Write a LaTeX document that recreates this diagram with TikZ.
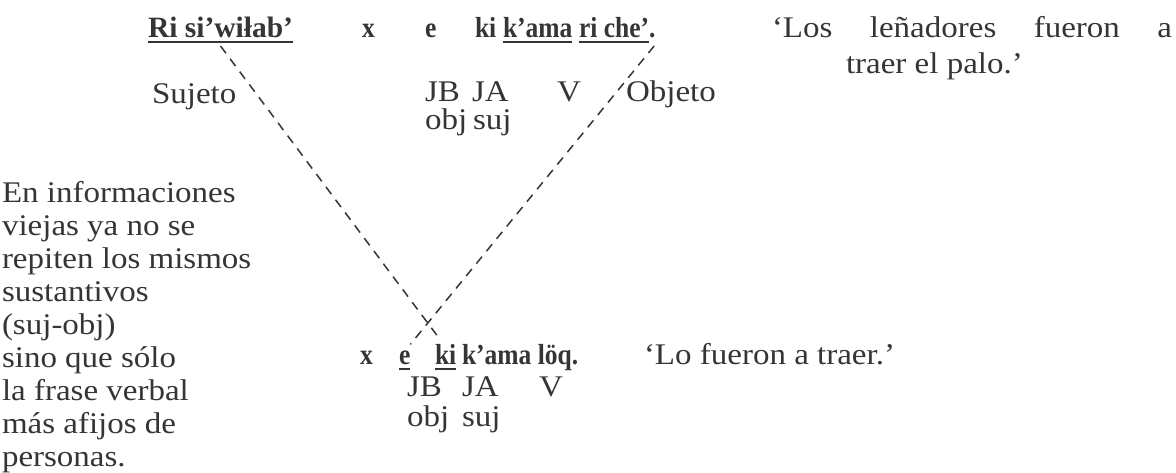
\documentclass[tikz,border=0pt]{standalone}
\usepackage{fontspec}
\setmainfont{Liberation Serif}
\newfontfamily\rmwide[FakeStretch=1.1]{Liberation Serif}
\newfontfamily\bfnarrow[FakeStretch=0.88]{Liberation Serif Bold}
\usetikzlibrary{calc}
\definecolor{ink}{HTML}{353535}
% thick underline a little below the baseline
\newsavebox{\ulbox}
\newcommand{\uln}[1]{\sbox{\ulbox}{#1}\rlap{\rule[-6pt]{\wd\ulbox}{1.8pt}}\usebox{\ulbox}}
\begin{document}
\begin{tikzpicture}[x=1pt,y=-1pt,
  txt/.style={anchor=base west, inner sep=0pt, outer sep=0pt, text=ink,
    font=\fontsize{30}{33}\rmwide},
  bld/.style={txt, font=\fontsize{29}{30}\bfnarrow},
  bigbld/.style={txt, font=\fontsize{29.5}{30}\selectfont\bfseries},
  link/.style={draw=ink, line width=1.5pt, dash pattern=on 9pt off 7pt}]
\useasboundingbox (0,0) rectangle (1176,472);

% full sentence
\node[bigbld] (subj) at (148,37) {\uln{Ri si’wiłab’}};
\node[bld] (x1)   at (362,37) {x};
\node[bld] (e1)   at (425,37) {e};
\node[bld] (ki1)  at (475,37) {ki};
\node[bld] (vb1)  at (503,37) {\uln{k’ama}};
\node[bld] (obj1) at (579,37) {\uln{ri che’}};
\node[bld] (pt1)  at (obj1.base east) {.};
\node[txt] (tr1)  at (772,37) {\makebox[400pt][s]{‘Los leñadores fueron a}};
\node[txt] (tr1b) at (846,73) {traer el palo.’};

\node[txt] (sujeto) at (152,103) {Sujeto};
\node[txt] (jb1)    at (425,101) {JB};
\node[txt] (ja1)    at (472,101) {JA};
\node[txt] (vv1)    at (557,101) {V};
\node[txt] (objeto) at (626,101) {Objeto};
\node[txt] (ob1)    at (425,129) {obj};
\node[txt] (su1)    at (473,129) {suj};

% side note
\foreach \t [count=\i] in {{En informaciones},{viejas ya no se},
    {repiten los mismos},{sustantivos},{(suj-obj)},{sino que sólo},
    {la frase verbal},{más afijos de},{personas.}}
  \node[txt] (note\i) at (2,169+33*\i) {\t};

% reduced sentence
\node[bld] (x2)  at (360,364) {x};
\node[bld] (e2)  at (399,364) {\uln{e}};
\node[bld] (ki2) at (435,364) {\uln{ki}};
\node[bld] (vb2) at (462,364) {k’ama löq.};
\node[txt] (tr2) at (644,364) {‘Lo fueron a traer.’};
\node[txt] (jb2) at (407,396) {JB};
\node[txt] (ja2) at (462,396) {JA};
\node[txt] (vv2) at (539,396) {V};
\node[txt] (ob2) at (407,426) {obj};
\node[txt] (su2) at (462,426) {suj};

% reference links
\draw[link] ([yshift=-3pt]subj.south) -- ([xshift=-6pt,yshift=5pt]ki2.north);
\draw[link] ([xshift=5pt,yshift=-3pt]obj1.south east) -- ([yshift=6pt]e2.north east);
\end{tikzpicture}
\end{document}
